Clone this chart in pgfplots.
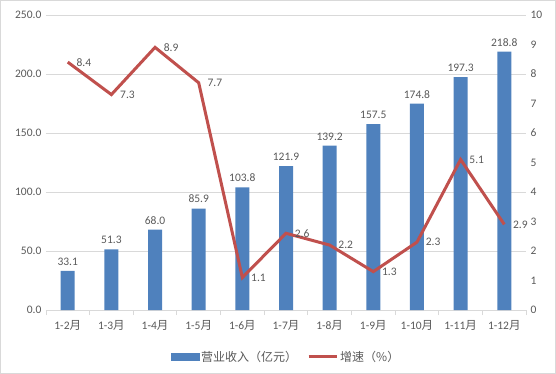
\documentclass[border=0pt]{standalone}
\usepackage{fontspec}
\usepackage{pgfplots}
\pgfplotsset{compat=1.18}
\setmainfont{Carlito}
\newfontfamily\cjk{Noto Sans CJK SC}
\definecolor{barblue}{HTML}{4F81BD}
\definecolor{linered}{HTML}{C0504D}
\definecolor{txtgray}{HTML}{595959}
\definecolor{gridgray}{HTML}{D9D9D9}
\begin{document}
\begin{tikzpicture}[x=1pt,y=1pt]
\pgfplotsset{
  common/.style={
    scale only axis, width=480pt, height=295pt,
    xmin=-0.5, xmax=10.5,
    /pgf/number format/assume math mode=true,
    tick label style={font=\fontsize{11.5}{13}\selectfont, text=txtgray},
  }
}
\begin{axis}[common, name=ax,
  at={(0,0)}, anchor=south west,
  ymin=0, ymax=250, ytick={0,50,...,250},
  yticklabel style={/pgf/number format/fixed, /pgf/number format/zerofill, /pgf/number format/precision=1, xshift=-1pt},
  ymajorgrids, grid style={gridgray, line width=0.8pt},
  axis x line*=bottom, axis y line*=left,
  y axis line style={draw=none},
  x axis line style={gridgray, line width=0.8pt},
  ytick style={draw=none},
  xtick={0,...,10},
  xticklabels={1-2{\cjk 月},1-3{\cjk 月},1-4{\cjk 月},1-5{\cjk 月},1-6{\cjk 月},1-7{\cjk 月},1-8{\cjk 月},1-9{\cjk 月},1-10{\cjk 月},1-11{\cjk 月},1-12{\cjk 月}},
  major x tick style={draw=none},
  minor xtick={-0.5,0.5,...,10.5},
  minor tick length=5pt,
  minor x tick style={gridgray, line width=0.8pt},
  xtick align=outside,
  xticklabel style={yshift=-3pt},
  clip=false,
]
\addplot[ybar, bar width=14pt, fill=barblue, draw=none,
  nodes near coords,
  nodes near coords style={font=\fontsize{11.5}{13}\selectfont, text=txtgray, yshift=2pt,
    /pgf/number format/fixed, /pgf/number format/zerofill, /pgf/number format/precision=1},
] coordinates {(0,33.1) (1,51.3) (2,68.0) (3,85.9) (4,103.8) (5,121.9) (6,139.2) (7,157.5) (8,174.8) (9,197.3) (10,218.8)};
\end{axis}
\begin{axis}[common,
  at={(0,0)}, anchor=south west,
  ymin=0, ymax=10, ytick={0,...,10},
  axis y line*=right, axis x line=none,
  y axis line style={draw=none},
  ytick style={draw=none},
  yticklabel style={xshift=1pt},
  clip=false,
  legend style={at={(0.5,-0.125)}, anchor=north, draw=none, legend columns=2,
    font=\fontsize{12}{14}\selectfont, text=txtgray,
    /tikz/every even column/.append style={column sep=8pt}},
]
\addlegendimage{area legend, legend image code/.code={\fill[barblue] (0pt,-3.5pt) rectangle (28pt,3.5pt);}}
\addlegendentry{{\cjk 营业收入（亿元）}}
\addplot[linered, line width=3pt, mark=none,
  nodes near coords,
  nodes near coords style={font=\fontsize{11.5}{13}\selectfont, text=txtgray, anchor=west, xshift=4pt,
    /pgf/number format/fixed, /pgf/number format/zerofill, /pgf/number format/precision=1},
  legend image code/.code={\draw[linered, line width=3pt] (0pt,0pt) -- (28pt,0pt);},
] coordinates {(0,8.4) (1,7.3) (2,8.9) (3,7.7) (4,1.1) (5,2.6) (6,2.2) (7,1.3) (8,2.3) (9,5.1) (10,2.9)};
\addlegendentry{{\cjk 增速（\%）}}
\end{axis}
\draw[gridgray, line width=0.8pt] (-45.5,-63.5) rectangle (509.5,309.5);
\end{tikzpicture}
\end{document}
